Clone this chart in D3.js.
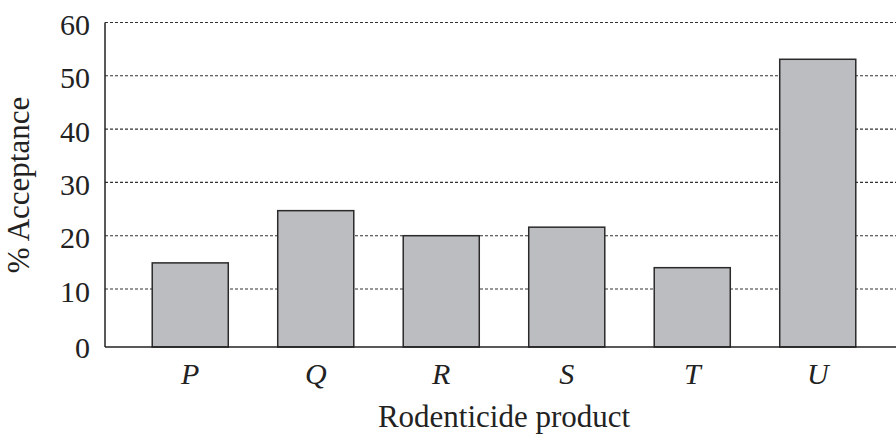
<!DOCTYPE html>
<html>
<head>
<meta charset="utf-8">
<script src="https://cdn.jsdelivr.net/npm/d3@7"></script>
<style>
  html, body { margin: 0; padding: 0; background: #fff; }
  svg { display: block; }
  text { font-family: "Liberation Serif", "Times New Roman", serif; fill: #222; }
</style>
</head>
<body>
<svg id="chart" width="896" height="434"></svg>
<script>
const categories = ["P", "Q", "R", "S", "T", "U"];
const acceptance = [14.9, 24.7, 20.0, 21.6, 14.0, 53.1];
const yTicks = [0, 10, 20, 30, 40, 50, 60];
const xTitle = "Rodenticide product";
const yTitle = "% Acceptance";

const svg = d3.select("#chart");
const axisX = 105, baseY = 347, rightX = 896;

const y = d3.scaleLinear().domain([0, 60]).range([342.3, 22.5]);
const x = d3.scaleBand().domain(categories).range([127.5, 880.5])
  .paddingInner(0.394).paddingOuter(0.197);

// gridlines
svg.append("g").selectAll("line")
  .data(yTicks.filter(d => d > 0))
  .join("line")
  .attr("x1", axisX).attr("x2", rightX)
  .attr("y1", d => y(d)).attr("y2", d => y(d))
  .attr("stroke", "#333").attr("stroke-width", 1.1)
  .attr("stroke-dasharray", "3,2");

// bars
svg.append("g").selectAll("rect")
  .data(categories.map((c, i) => ({c, v: acceptance[i]})))
  .join("rect")
  .attr("x", d => x(d.c))
  .attr("width", x.bandwidth())
  .attr("y", d => y(d.v))
  .attr("height", d => baseY - y(d.v))
  .attr("fill", "#bcbdc1")
  .attr("stroke", "#2a2a2a")
  .attr("stroke-width", 1.5);

// axes lines
svg.append("line").attr("x1", axisX).attr("x2", axisX).attr("y1", y(60)).attr("y2", baseY)
  .attr("stroke", "#222").attr("stroke-width", 1.5);
svg.append("line").attr("x1", axisX).attr("x2", rightX).attr("y1", baseY).attr("y2", baseY)
  .attr("stroke", "#222").attr("stroke-width", 1.5);

// y tick labels
svg.append("g").selectAll("text")
  .data(yTicks)
  .join("text")
  .attr("x", 90)
  .attr("y", d => d === 0 ? baseY : y(d) + 2)
  .attr("dy", "0.35em")
  .attr("text-anchor", "end")
  .attr("font-size", 30)
  .text(d => d);

// x category labels
svg.append("g").selectAll("text")
  .data(categories)
  .join("text")
  .attr("x", d => x(d) + x.bandwidth() / 2)
  .attr("y", 384)
  .attr("text-anchor", "middle")
  .attr("font-size", 30)
  .attr("font-style", "italic")
  .text(d => d);

// axis titles
svg.append("text")
  .attr("x", 504).attr("y", 427)
  .attr("text-anchor", "middle")
  .attr("font-size", 31)
  .text(xTitle);

svg.append("text")
  .attr("transform", "translate(29,185) rotate(-90)")
  .attr("text-anchor", "middle")
  .attr("font-size", 31)
  .text(yTitle);
</script>
</body>
</html>
